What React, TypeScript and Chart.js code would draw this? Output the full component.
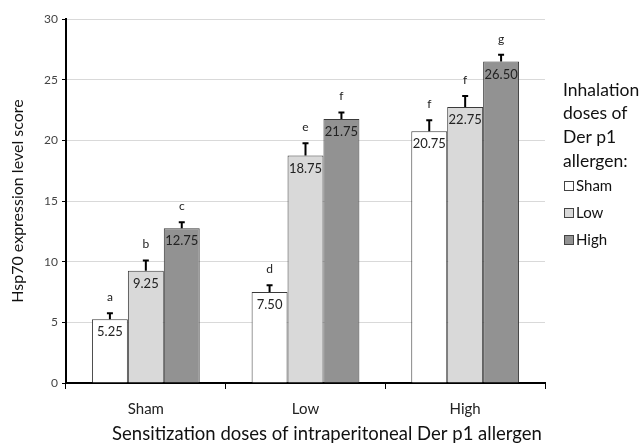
import React, { useEffect, useRef } from "react";
import { Chart, registerables } from "chart.js";

Chart.register(...registerables);

const categories = ["Sham", "Low", "High"];
const seriesNames = ["Sham", "Low", "High"];
const shamValues = [5.25, 7.5, 20.75];
const lowValues = [9.25, 18.75, 22.75];
const highValues = [12.75, 21.75, 26.5];
const shamErrors = [0.5, 0.55, 0.9];
const lowErrors = [0.85, 1.0, 0.9];
const highErrors = [0.5, 0.55, 0.55];
const shamLetters = ["a", "d", "f"];
const lowLetters = ["b", "e", "f"];
const highLetters = ["c", "f", "g"];
const yTicks = [0, 5, 10, 15, 20, 25, 30];
const legendTitle = ["Inhalation", "doses of", "Der p1", "allergen:"];
const xTitle = "Sensitization doses of intraperitoneal Der p1 allergen";
const yTitle = "Hsp70 expression level score";

const FONT = "Lato, 'Open Sans', sans-serif";

const annotPlugin = {
  id: "annot",
  afterDatasetsDraw(chart: any) {
    const ctx = chart.ctx;
    const y = chart.scales.y;
    chart.data.datasets.forEach((ds: any, di: number) => {
      const meta = chart.getDatasetMeta(di);
      meta.data.forEach((bar: any, i: number) => {
        const v = ds.data[i];
        const err = ds.errors[i];
        const top = y.getPixelForValue(v);
        const etop = y.getPixelForValue(v + err);
        ctx.save();
        ctx.strokeStyle = "#000";
        ctx.lineWidth = 2;
        ctx.beginPath();
        ctx.moveTo(bar.x, top);
        ctx.lineTo(bar.x, etop);
        ctx.moveTo(bar.x - 3, etop);
        ctx.lineTo(bar.x + 3, etop);
        ctx.stroke();
        ctx.fillStyle = "#222";
        ctx.textAlign = "center";
        ctx.textBaseline = "middle";
        ctx.font = `13px ${FONT}`;
        ctx.fillText(v.toFixed(2), bar.x, top + 13);
        ctx.font = `12px ${FONT}`;
        ctx.fillText(ds.letters[i], bar.x, etop - 16);
        ctx.restore();
      });
    });
    const ctx2 = chart.ctx;
    ctx2.save();
    ctx2.fillStyle = "#111";
    ctx2.textBaseline = "middle";
    // x title
    ctx2.textAlign = "center";
    ctx2.font = `18.5px ${FONT}`;
    ctx2.fillText(xTitle, 327, 434);
    // legend
    ctx2.font = `17.5px ${FONT}`;
    ctx2.textAlign = "left";
    const lx = 563;
    legendTitle.forEach((t, k) => ctx2.fillText(t, lx, 90 + k * 23.7));
    chart.data.datasets.forEach((ds: any, di: number) => {
      const cy = 186 + di * 27;
      ctx2.fillStyle = ds.backgroundColor;
      ctx2.fillRect(lx + 1, cy - 5, 9, 9);
      ctx2.strokeStyle = "#444";
      ctx2.lineWidth = 1;
      ctx2.strokeRect(lx + 1.5, cy - 4.5, 9, 9);
      ctx2.fillStyle = "#111";
      ctx2.font = `15px ${FONT}`;
      ctx2.fillText(ds.label, lx + 13, cy);
    });
    ctx2.restore();
  },
};

export default function App() {
  const ref = useRef<HTMLCanvasElement>(null);
  useEffect(() => {
    const mk = (label: string, data: number[], errors: number[], letters: string[], color: string) => ({
      label,
      data,
      errors,
      letters,
      backgroundColor: color,
      borderColor: "#3a3a3a",
      borderWidth: 1,
      borderSkipped: "bottom",
    });
    const chart = new Chart(ref.current as HTMLCanvasElement, {
      type: "bar",
      data: {
        labels: categories,
        datasets: [
          mk(seriesNames[0], shamValues, shamErrors, shamLetters, "#ffffff"),
          mk(seriesNames[1], lowValues, lowErrors, lowLetters, "#d9d9d9"),
          mk(seriesNames[2], highValues, highErrors, highLetters, "#929292"),
        ] as any,
      },
      options: {
        animation: false,
        responsive: false,
        layout: { padding: { left: 0, right: 99, top: 19, bottom: 0 } },
        datasets: { bar: { categoryPercentage: 0.675, barPercentage: 1 } },
        plugins: { legend: { display: false }, tooltip: { enabled: false } },
        scales: {
          x: {
            grid: { display: true, drawOnChartArea: false, drawTicks: true, tickLength: 6, color: "#000", offset: true },
            border: { color: "#000", width: 2 },
            ticks: { color: "#222", font: { family: FONT, size: 15 }, padding: 11 },
            title: { display: false },
            afterFit: (s: any) => { s.height = 60; },
          },
          y: {
            min: 0,
            max: 30,
            afterBuildTicks: (s: any) => { s.ticks = yTicks.map((v) => ({ value: v })); },
            grid: { color: "#d9d9d9", lineWidth: 1, tickLength: 4, tickColor: "#000" },
            border: { color: "#000", width: 2 },
            ticks: { color: "#444", font: { family: FONT, size: 12 }, padding: 4 },
            title: {
              display: true,
              text: yTitle,
              color: "#111",
              font: { family: FONT, size: 16 },
              padding: { top: 8, bottom: 4 },
            },
            afterFit: (s: any) => { s.width = 66; },
          },
        },
      } as any,
      plugins: [annotPlugin],
    });
    return () => chart.destroy();
  }, []);
  return (
    <div style={{ position: "fixed", left: 0, top: 0, width: 644, height: 443, background: "#fff" }}>
      <canvas ref={ref} width={644} height={443} />
    </div>
  );
}
